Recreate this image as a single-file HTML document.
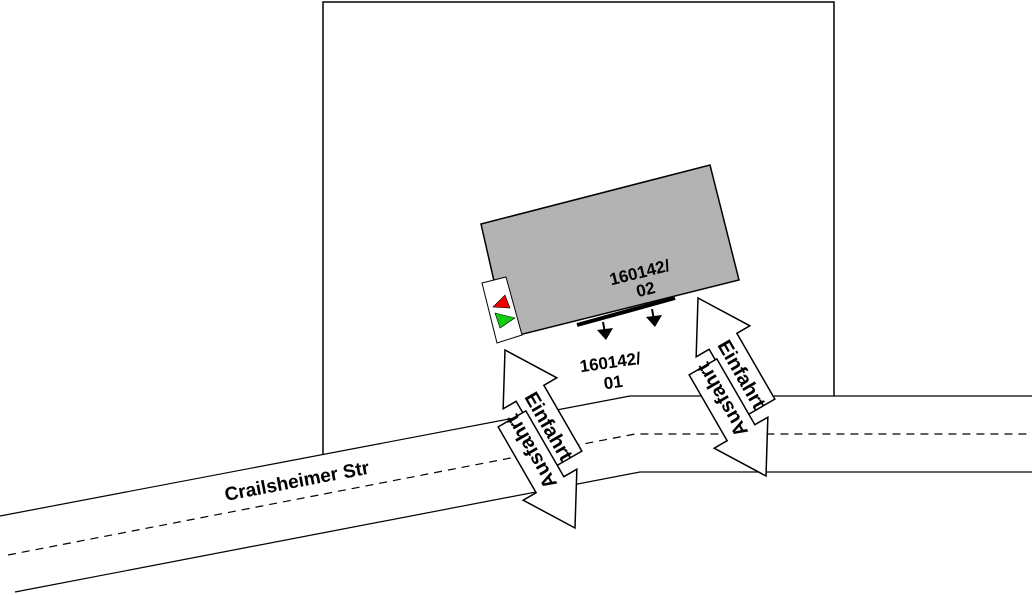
<!DOCTYPE html>
<html><head><style>body{margin:0;background:#fff}svg{display:block}</style></head>
<body>
<svg width="1032" height="595" viewBox="0 0 1032 595" xmlns="http://www.w3.org/2000/svg" font-family="Liberation Sans, sans-serif" font-weight="bold">
<rect width="1032" height="595" fill="#fff"/>
<polyline points="323,454 323,2 834,2 834,396" fill="none" stroke="#000" stroke-width="1.5"/>
<polyline points="0,516 630,396 1032,396" fill="none" stroke="#000" stroke-width="1.2"/>
<polyline points="8,555 635,434 1032,434" fill="none" stroke="#000" stroke-width="1.2" stroke-dasharray="8,6"/>
<polyline points="15,592 640,472 1032,472" fill="none" stroke="#000" stroke-width="1.2"/>
<text x="0" y="0" font-size="19" transform="translate(226,501) rotate(-10.8)">Crailsheimer Str</text>
<polygon points="481,224 710,165 739,280 507,338" fill="#b3b3b3" stroke="#000" stroke-width="1.5"/>
<polygon points="482,283 506,277 522,335 497,343" fill="#fff" stroke="#000" stroke-width="1"/>
<polygon points="493,307 505,295 510,308" fill="#e00" stroke="#000" stroke-width="0.6"/>
<polygon points="495,313 515,318 500,328" fill="#1c1" stroke="#000" stroke-width="0.6"/>
<line x1="577" y1="325" x2="675" y2="298" stroke="#000" stroke-width="4"/>
<line x1="603" y1="322" x2="605" y2="333" stroke="#000" stroke-width="2"/>
<polygon points="597,330 613,328 606,340" fill="#000"/>
<line x1="652" y1="309" x2="654" y2="320" stroke="#000" stroke-width="2"/>
<polygon points="646,317 662,315 655,327" fill="#000"/>
<g font-size="17" text-anchor="middle">
<text transform="translate(641,278) rotate(-14)">160142/</text>
<text transform="translate(647,295) rotate(-14)">02</text>
<text transform="translate(611,368) rotate(-8)">160142/</text>
<text transform="translate(614,388) rotate(-8)">01</text>
</g>
<defs>
<polygon id="arr" points="0,0 31,50 16,50 16,126 -16,126 -16,50 -31,50" fill="#fff" stroke="#000" stroke-width="1.5"/>
</defs>
<g transform="translate(505,350) rotate(-30)">
<use href="#arr"/>
<text font-size="20" text-anchor="middle" transform="translate(-7,88) rotate(90)">Einfahrt</text>
</g>
<g transform="translate(575,528) rotate(150)">
<use href="#arr"/>
<text font-size="20" text-anchor="middle" transform="translate(-7,88) rotate(90)">Ausfahrt</text>
</g>
<g transform="translate(698,298) rotate(-30)">
<use href="#arr"/>
<text font-size="20" text-anchor="middle" transform="translate(-7,88) rotate(90)">Einfahrt</text>
</g>
<g transform="translate(766,476) rotate(150)">
<use href="#arr"/>
<text font-size="20" text-anchor="middle" transform="translate(-7,88) rotate(90)">Ausfahrt</text>
</g>
</svg>
</body></html>
